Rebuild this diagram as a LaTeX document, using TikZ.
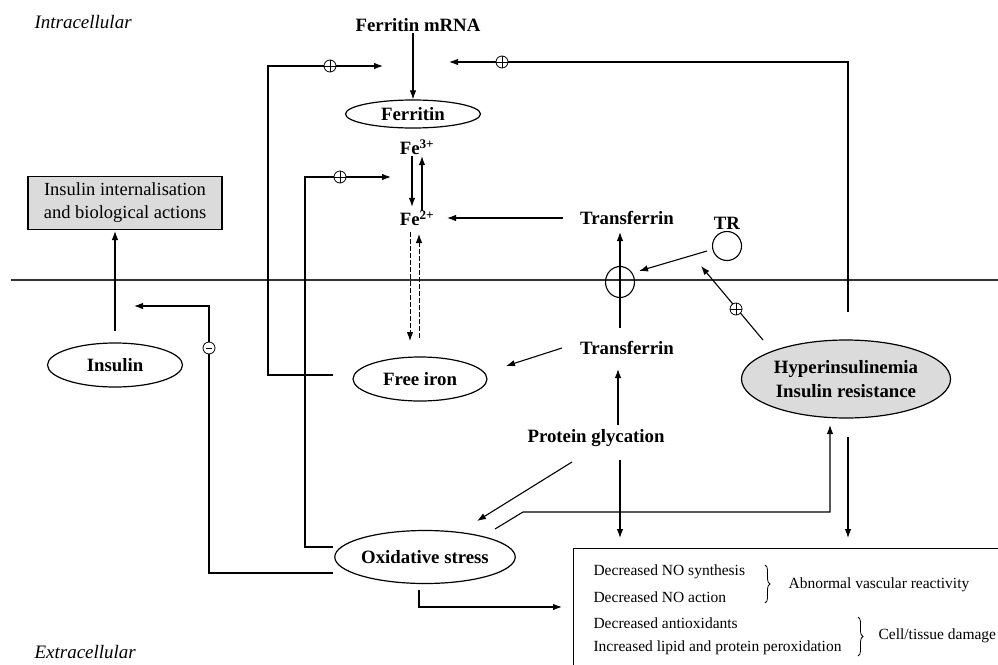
\documentclass[tikz,border=0pt]{standalone}
\usepackage{fontspec}
\setmainfont{Liberation Serif}
\usetikzlibrary{arrows.meta,shapes.geometric,decorations.pathreplacing}
\begin{document}
\begin{tikzpicture}[x=1pt,y=-1pt,line width=1.1pt,
  lbl/.style={font=\fontsize{18.8}{21}\selectfont\bfseries,inner sep=1pt},
  side/.style={font=\fontsize{19}{21}\selectfont\itshape,inner sep=0pt,anchor=west},
  ell/.style={ellipse,draw,line width=1.2pt,inner sep=0pt,font=\fontsize{18.8}{21}\selectfont\bfseries},
  txt/.style={font=\fontsize{15.5}{18}\selectfont,inner sep=0pt,anchor=west},
  arr/.style={-{Latex[length=9pt,width=6.5pt]}},
  plussign/.style={circle,draw,fill=white,minimum size=12pt,inner sep=0pt,line width=0.8pt,
    path picture={\draw[line width=0.6pt] (path picture bounding box.north) -- (path picture bounding box.south)
      (path picture bounding box.west) -- (path picture bounding box.east);}},
  minussign/.style={circle,draw,fill=white,minimum size=12pt,inner sep=0pt,line width=0.8pt,
    path picture={\draw[line width=0.6pt] ([xshift=-3pt]path picture bounding box.center) -- ([xshift=3pt]path picture bounding box.center);}},
  dashedarr/.style={arr,line width=0.9pt,dash pattern=on 5pt off 2pt}
]
\useasboundingbox (0,0) rectangle (998,664);
\clip (0,0) rectangle (998,664);

% membrane
\coordinate (m1) at (11,280);
\coordinate (m2) at (998,280);
\draw[line width=1.2pt,black!80] (m1) -- (m2);

% side labels
\node[side] (intra) at (34,22) {Intracellular};
\node[side] (extra) at (34,652) {Extracellular};

% nodes
\node[lbl] (mrna) at (418,25) {Ferritin mRNA};
\node[ell,minimum width=135pt,minimum height=28pt] (ferritin) at (413,114) {Ferritin};
\node[lbl] (fe3) at (417,147) {Fe\textsuperscript{3+}};
\node[lbl] (fe2) at (417,218) {Fe\textsuperscript{2+}};
\node[draw,fill=gray!28,line width=1.1pt,minimum width=194pt,minimum height=53pt,align=center,
  font=\fontsize{18.5}{23}\selectfont,inner sep=0pt] (insbox) at (125,203) {Insulin internalisation\\and biological actions};
\node[ell,minimum width=135pt,minimum height=44pt] (insulin) at (115,365) {Insulin};
\node[ell,minimum width=134pt,minimum height=44pt] (freeiron) at (420,379) {Free iron};
\node[ell,minimum width=164pt,minimum height=53pt] (ox) at (425,557) {Oxidative stress};
\node[lbl] (tf1) at (627,218) {Transferrin};
\node[lbl] (tf2) at (627,348) {Transferrin};
\node[lbl] (pg) at (596,438) {Protein glycation};
\node[lbl] (trl) at (727,223) {TR};
\node[circle,draw,minimum size=29pt,inner sep=0pt] (trc) at (727,246) {};
\node[ellipse,draw,minimum width=29pt,minimum height=31pt,inner sep=0pt] (mem) at (620,282) {};
\node[ell,fill=gray!28,minimum width=209pt,minimum height=78pt,align=center,
  font=\fontsize{18.8}{24}\selectfont\bfseries] (hyper) at (846,379) {Hyperinsulinemia\\Insulin resistance};

% results box
\node[draw,line width=1.1pt,minimum width=440pt,minimum height=140pt,inner sep=0pt,anchor=north west] (box) at (573,548) {};
\node[txt] (t1) at (593,572) {Decreased NO synthesis};
\node[txt] (t2) at (593,597) {Decreased NO action};
\node[txt] (t3) at (593,623) {Decreased antioxidants};
\node[txt] (t4) at (593,648) {Increased lipid and protein peroxidation};
\node[txt] (r1) at (788,585) {Abnormal vascular reactivity};
\node[txt] (r2) at (878,636) {Cell/tissue damage};
\coordinate (b1a) at (765,565); \coordinate (b1b) at (765,603);
\coordinate (b2a) at (858,617); \coordinate (b2b) at (858,656);
\draw[line width=0.8pt,decorate,decoration={brace,amplitude=5pt}] (b1a) -- (b1b);
\draw[line width=0.8pt,decorate,decoration={brace,amplitude=5pt}] (b2a) -- (b2b);

% connectors
\draw[arr] (ferritin.north |- mrna.south) -- (ferritin.north);
\draw[arr] ([xshift=-5pt]fe3.south) -- ([xshift=-5pt,yshift=2pt]fe2.north);
\draw[arr] ([xshift=5pt,yshift=-2pt]fe2.north) -- ([xshift=5pt]fe3.south);
\coordinate (fd1) at (410,232); \coordinate (fd2) at (410,341);
\coordinate (fu1) at (419,338); \coordinate (fu2) at (419,234);
\draw[dashedarr] (fd1) -- (fd2);
\draw[dashedarr] (fu1) -- (fu2);
\coordinate (tfw) at (563,218); \coordinate (fe2e) at (447,218);
\draw[arr] (tfw) -- (fe2e);

% loop 1: free iron -> ferritin
\coordinate (l1s) at (333,375); \coordinate (l1c) at (268,66); \coordinate (l1e) at (383,66);
\draw[arr] (l1s) -| (l1c) -- (l1e);
\node[plussign] (p1) at (330,66) {};
% loop 2: oxidative stress -> Fe
\coordinate (l2s) at (333,547); \coordinate (l2c) at (305,177); \coordinate (l2e) at (391,177);
\draw[arr] (l2s) -| (l2c) -- (l2e);
\node[plussign] (p2) at (340,177) {};
% loop 3: oxidative stress -| insulin
\coordinate (l3s) at (333,573); \coordinate (l3c) at (209,306); \coordinate (l3e) at (134,306);
\draw[arr] (l3s) -| (l3c) -- (l3e);
\node[minussign] (m3) at (209,348) {};
% loop 4: hyper -> ferritin
\coordinate (l4s) at (848,312); \coordinate (l4c) at (848,62); \coordinate (l4e) at (449,62);
\draw[arr] (l4s) -- (l4c) -- (l4e);
\node[plussign] (p4) at (502,62) {};

\coordinate (ins1) at (115,331); \coordinate (ins2) at (115,231);
\draw[arr] (ins1) -- (ins2);

\coordinate (tv1) at (620,328); \coordinate (tv2) at (620,232);
\draw[arr] (tv1) -- (tv2);
\coordinate (tr1) at (707,251); \coordinate (tr2) at (639,271);
\draw[arr] (tr1) -- (tr2);
\coordinate (h1) at (763,340); \coordinate (h2) at (701,266);
\draw[arr] (h1) -- (h2);
\node[plussign] (p5) at (736,309) {};
\coordinate (tf2w) at (562,348); \coordinate (fie) at (506,366);
\draw[arr] (tf2w) -- (fie);
\coordinate (pg1) at (618,425); \coordinate (pg2) at (618,369);
\draw[arr] (pg1) -- (pg2);
\coordinate (pg3) at (572,462); \coordinate (pg4) at (477,521);
\draw[arr] (pg3) -- (pg4);
\coordinate (o1) at (495,529); \coordinate (o2) at (523,512); \coordinate (o3) at (830,425);
\draw[arr] (o1) -- (o2) -| (o3);
\coordinate (pg5) at (620,460); \coordinate (pg6) at (620,538);
\draw[arr] (pg5) -- (pg6);
\coordinate (hb1) at (848,437); \coordinate (hb2) at (848,538);
\draw[arr] (hb1) -- (hb2);
\coordinate (ob1) at (419,590); \coordinate (ob2) at (562,607);
\draw[arr] (ob1) |- (ob2);
\end{tikzpicture}
\end{document}
